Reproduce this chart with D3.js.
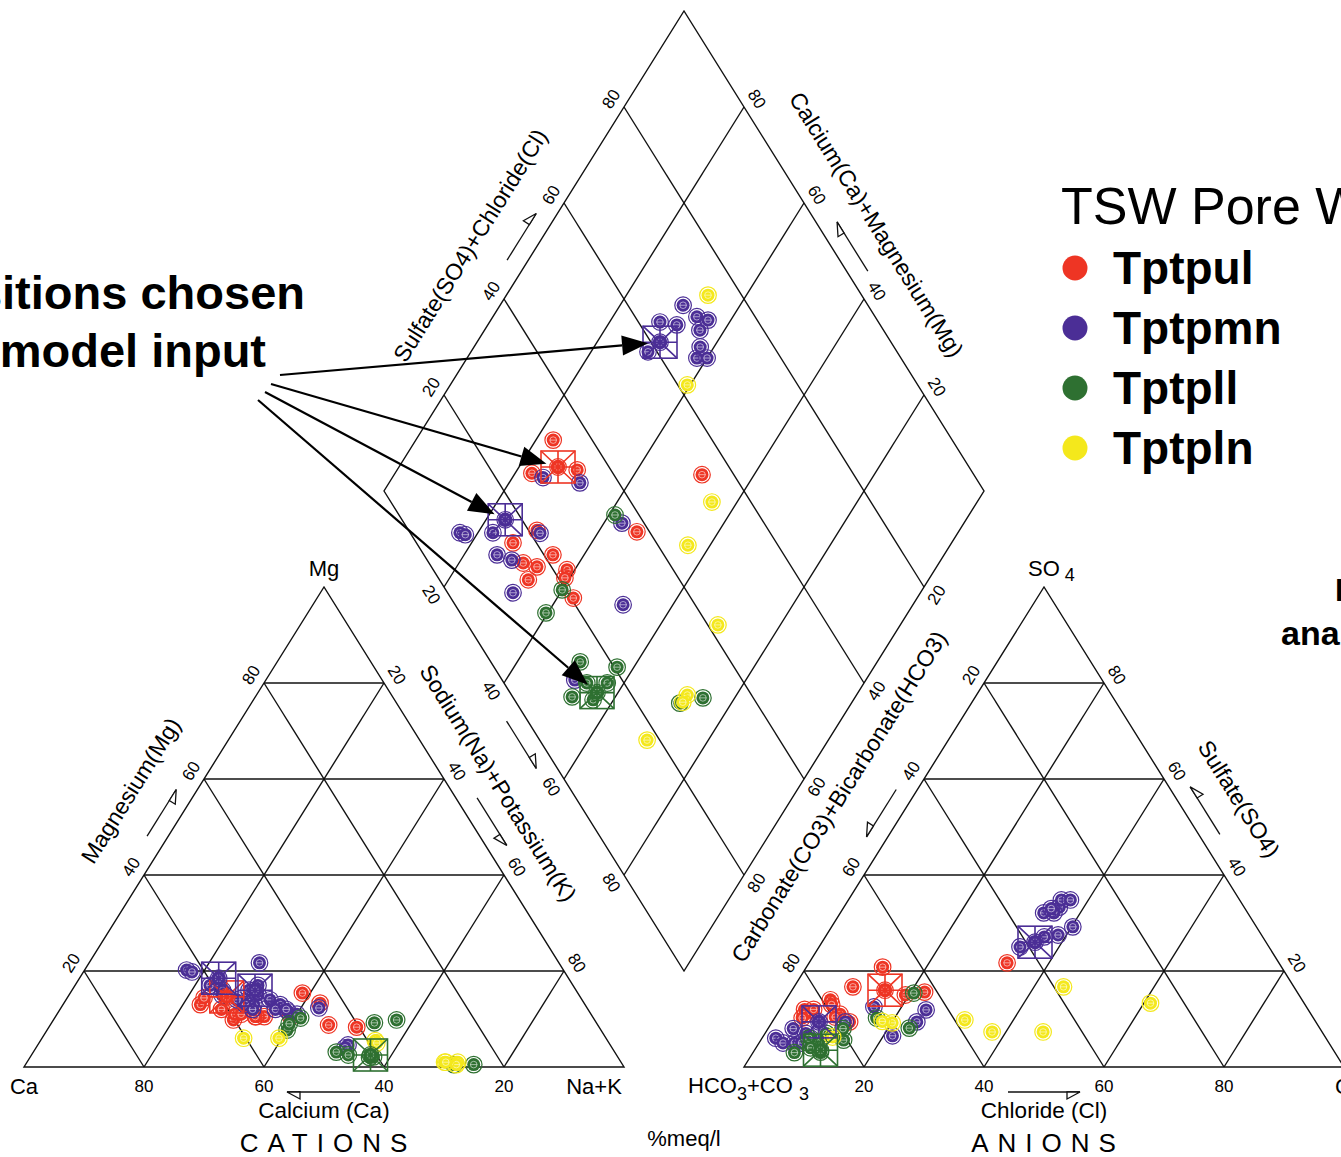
<!DOCTYPE html>
<html>
<head>
<meta charset="utf-8">
<script src="https://cdn.jsdelivr.net/npm/d3@7"></script>
<style>
  body { margin: 0; background: #fff; }
  svg { display: block; }
  text { font-family: "Liberation Sans", Arial, Helvetica, sans-serif; fill: #000; }
</style>
</head>
<body>
<svg></svg>
<script>
// groups and colours
const groups = ["Tptpul", "Tptpmn", "Tptpll", "Tptpln"]
const colours = ["#ee3524", "#4b2e96", "#2e7031", "#f4e81c"]

// samples, each row: [Mg, Na+K, SO4, Cl] in %meq/l
const tptpul = [
  [13, 22.9, 20.8, 12.7], [14.4, 22.8, 16.7, 9.8], [9.8, 30, 15, 19.4],
  [11, 29.6, 14, 7.4], [12, 26.9, 12, 4.1], [10.5, 34.8, 11, 10.5],
  [11, 30.7, 11, 4.7], [10.5, 33.4, 12, 5.6], [10.5, 33.3, 10.2, 4.6],
  [15.4, 38.7, 9.4, 12.9], [10.5, 39.2, 13, 8.1], [13.3, 42.7, 10.4, 10],
  [8.75, 46.4, 15.6, 22.3], [8.3, 51.3, 21.7, 33]
]
const tptpmn = [
  [17, 30.5, 33.3, 35.9], [21.7, 28.4, 27.1, 36.5], [15, 31.5, 27.5, 38.6],
  [14, 34, 34.8, 35.5], [13, 36.2, 34.8, 37], [12, 35.9, 29.2, 40.2],
  [16, 29.5, 25, 33.5], [11.5, 38.3, 32.1, 33.9], [11, 40, 32.1, 35.6],
  [12, 37.7, 33, 34.7], [16, 25.1, 12.5, 15.4], [13, 31.8, 9.4, 24.1],
  [20.2, 17, 6, 2.3], [19.8, 18.1, 5, 4], [17, 22.5, 7, 6.8],
  [13, 30.4, 9.4, 12.2], [15, 25.5, 8, 4.2], [14, 28.5, 6, 8.1],
  [12, 32.1, 5, 5.9], [4.6, 51.7, 6.5, 21.5], [12.3, 43, 11.9, 24.4],
  [4, 51.5, 5, 7.1]
]
const tptpll = [
  [10.2, 41, 15.4, 20.6], [7.7, 40, 5.6, 13.8], [9, 39.7, 3.1, 11.2],
  [3.1, 50.5, 5, 9.9], [9.8, 57.2, 8, 12.5], [2.5, 52.8, 3, 6.9],
  [9.2, 53.8, 6, 7.8], [2.1, 57.2, 7, 10.2], [2, 56.6, 4, 9.1],
  [0.5, 74.7, 8.1, 23.5], [0.5, 71.4, 10.2, 17]
]
const tptpln = [
  [6, 33.6, 13.3, 61.1], [6, 39.5, 16.7, 44.9], [5.5, 55.8, 7.3, 46.2],
  [5, 56.3, 7.3, 37.7], [1, 69.6, 9.8, 31.9], [1, 71.8, 9.2, 20.1],
  [0.5, 71.8, 9.5, 18.3], [1, 69.8, 6.25, 11.65]
]
// compositions chosen for model input: [group, Mg, Na+K, SO4, Cl]
const chosen = [
  [0, 14.6, 26.5, 16, 15.5],
  [1, 16, 30.5, 26, 35.5],
  [1, 18.5, 23.2, 9.4, 7.8],
  [2, 2.5, 56.5, 3.5, 11]
]
const samples = [tptpul, tptpmn, tptpll, tptpln]
const ticks = [20, 40, 60, 80]

const width = 1341, height = 1157

const svg = d3.select("svg")
  .attr("width", width)
  .attr("height", height)

// geometry of the piper plot
const side = d3.scaleLinear().domain([0, 100]).range([0, 600])
const rise = d3.scaleLinear().domain([0, 100]).range([0, 480])
const baseY = 1067
const catX0 = 24
const anX0 = catX0 + side(120)
const diaX0 = catX0 + side(60)
const diaY0 = baseY - rise(120)

function cat(mg, nak) { return [catX0 + side(nak + mg / 2), baseY - rise(mg)] }
function an(so4, cl) { return [anX0 + side(cl + so4 / 2), baseY - rise(so4)] }
function dia(nak, sc) { return [diaX0 + side((nak + sc) / 2), diaY0 + rise(nak - sc)] }

const ang = Math.atan2(480, 300) * 180 / Math.PI
const rad = ang * Math.PI / 180
const nUL = [-Math.sin(rad), -Math.cos(rad)]  // outward, edge rising to the right
const nUR = [Math.sin(rad), -Math.cos(rad)]   // outward, edge falling to the right
const nLL = [-nUR[0], -nUR[1]]
const nLR = [-nUL[0], -nUL[1]]
const uUp = [Math.cos(rad), -Math.sin(rad)]
const uDn = [Math.cos(rad), Math.sin(rad)]

const line = d3.line()

// grid
const grid = svg.append("g")
  .attr("fill", "none")
  .attr("stroke", "#111")
  .attr("stroke-width", 1.4)

const segs = []
ticks.forEach(v => {
  segs.push([cat(v, 0), cat(v, 100 - v)])
  segs.push([cat(0, v), cat(100 - v, v)])
  segs.push([cat(0, 100 - v), cat(100 - v, 0)])
  segs.push([an(v, 0), an(v, 100 - v)])
  segs.push([an(0, v), an(100 - v, v)])
  segs.push([an(0, 100 - v), an(100 - v, 0)])
  segs.push([dia(v, 0), dia(v, 100)])
  segs.push([dia(0, v), dia(100, v)])
})
grid.selectAll("path.seg").data(segs).enter().append("path")
  .attr("class", "seg")
  .attr("d", d => line(d))

const outlines = [
  [cat(0, 0), cat(0, 100), cat(100, 0)],
  [an(0, 0), an(0, 100), an(100, 0)],
  [dia(0, 0), dia(100, 0), dia(100, 100), dia(0, 100)]
]
grid.selectAll("path.outline").data(outlines).enter().append("path")
  .attr("class", "outline")
  .attr("d", d => line(d) + "Z")

// tick labels
const tickLabels = []
ticks.forEach(v => {
  tickLabels.push({p: cat(v, 0), n: nUL, r: -ang, t: v})
  tickLabels.push({p: cat(100 - v, v), n: nUR, r: ang, t: v})
  tickLabels.push({p: an(100 - v, 0), n: nUL, r: -ang, t: v})
  tickLabels.push({p: an(v, 100 - v), n: nUR, r: ang, t: v})
  tickLabels.push({p: dia(0, v), n: nUL, r: -ang, t: v})
  tickLabels.push({p: dia(100 - v, 100), n: nUR, r: ang, t: v})
  tickLabels.push({p: dia(v, 0), n: nLL, r: ang, t: v})
  tickLabels.push({p: dia(100, 100 - v), n: nLR, r: -ang, t: v})
  tickLabels.push({p: [cat(0, 100 - v)[0], baseY + 5], n: [0, 1], r: 0, t: v, d: 14})
  tickLabels.push({p: [an(0, v)[0], baseY + 5], n: [0, 1], r: 0, t: v, d: 14})
})
svg.append("g").selectAll("text").data(tickLabels).enter().append("text")
  .attr("transform", d => {
    const dd = d.d || 15
    return `translate(${d.p[0] + d.n[0] * dd},${d.p[1] + d.n[1] * dd}) rotate(${d.r})`
  })
  .attr("text-anchor", "middle")
  .attr("dominant-baseline", "central")
  .attr("font-size", 17)
  .text(d => d.t)

// axis titles along the edges
function edgeText(p, n, off, u, along, rot, txt) {
  const x = p[0] + n[0] * off + u[0] * along
  const y = p[1] + n[1] * off + u[1] * along
  svg.append("text")
    .attr("transform", `translate(${x},${y}) rotate(${rot})`)
    .attr("text-anchor", "middle")
    .attr("dominant-baseline", "central")
    .attr("font-size", 23)
    .text(txt)
}
edgeText(cat(50, 0), nUL, 56, uUp, 8, -ang, "Magnesium(Mg)")
edgeText(dia(0, 50), nUL, 57, uUp, -29, -ang, "Sulfate(SO4)+Chloride(Cl)")
edgeText(dia(50, 100), nUR, 50, uDn, 0, ang, "Calcium(Ca)+Magnesium(Mg)")
edgeText(dia(50, 0), nLL, 58, uDn, 25, ang, "Sodium(Na)+Potassium(K)")
edgeText(dia(100, 50), nLR, 39, uUp, -53, -ang, "Carbonate(CO3)+Bicarbonate(HCO3)")
edgeText(an(50, 50), nUR, 53, uDn, 0, ang, "Sulfate(SO4)")

// small axis arrows
function axisArrow(x1, y1, x2, y2, s) {
  const dx = x2 - x1, dy = y2 - y1, L = Math.hypot(dx, dy)
  const ux = dx / L, uy = dy / L
  const bx = x2 - ux * 13, by = y2 - uy * 13
  const sx = bx - uy * 7 * s, sy = by + ux * 7 * s
  const g = svg.append("g").attr("stroke", "#111").attr("stroke-width", 1.3)
  g.append("path").attr("d", line([[x1, y1], [x2, y2]])).attr("fill", "none")
  g.append("path").attr("d", line([[x2, y2], [bx, by], [sx, sy]]) + "Z").attr("fill", "#fff")
}
function edgeArrow(p, n, off, u, a0, a1, s) {
  axisArrow(p[0] + n[0] * off + u[0] * a0, p[1] + n[1] * off + u[1] * a0,
            p[0] + n[0] * off + u[0] * a1, p[1] + n[1] * off + u[1] * a1, s)
}
axisArrow(360, 1092, 287, 1092, -1)
axisArrow(1008, 1092, 1080, 1092, 1)
edgeArrow(cat(50, 0), nUL, 18, uUp, -22, 33, 1)
edgeArrow(dia(0, 50), nUL, 18, uUp, -22, 33, -1)
edgeArrow(dia(50, 100), nUR, 18, uDn, 35, -23, -1)
edgeArrow(dia(50, 0), nLL, 18, uDn, -23, 33, -1)
edgeArrow(cat(50, 50), nUR, 18, uDn, -23, 33, 1)
edgeArrow(an(50, 0), nUL, 18, uUp, 33, -23, 1)
edgeArrow(an(50, 50), nUR, 18, uDn, 20, -36, 1)

// corner and base labels
const cornerText = [
  {x: cat(0, 0)[0], y: baseY + 19, t: "Ca", s: 22},
  {x: cat(0, 100)[0] - 30, y: baseY + 19, t: "Na+K", s: 22},
  {x: cat(100, 0)[0], y: cat(100, 0)[1] - 19, t: "Mg", s: 22},
  {x: cat(0, 50)[0], y: baseY + 43, t: "Calcium (Ca)", s: 22.5},
  {x: an(0, 50)[0], y: baseY + 43, t: "Chloride (Cl)", s: 22.5},
  {x: diaX0 + side(50), y: baseY + 71, t: "%meq/l", s: 22}
]
svg.append("g").selectAll("text").data(cornerText).enter().append("text")
  .attr("x", d => d.x).attr("y", d => d.y)
  .attr("text-anchor", "middle")
  .attr("dominant-baseline", "central")
  .attr("font-size", d => d.s)
  .text(d => d.t)

svg.append("text")
  .attr("x", anX0 + side(100) - 9).attr("y", baseY + 19)
  .attr("dominant-baseline", "central").attr("font-size", 22)
  .text("Cl")

const hco = svg.append("text")
  .attr("x", anX0 - 56).attr("y", baseY + 26)
  .attr("font-size", 22)
hco.append("tspan").text("HCO")
hco.append("tspan").attr("dy", 7).attr("font-size", 18).text("3")
hco.append("tspan").attr("dy", -7).text("+CO ")
hco.append("tspan").attr("dy", 7).attr("font-size", 18).text("3")

const so = svg.append("text")
  .attr("x", an(100, 0)[0] - 16).attr("y", an(100, 0)[1] - 11)
  .attr("font-size", 22)
so.append("tspan").text("SO")
so.append("tspan").attr("dy", 5).attr("font-size", 18).text(" 4")

const bigLabels = [
  {x: cat(0, 50)[0], t: "CATIONS"},
  {x: an(0, 50)[0], t: "ANIONS"}
]
svg.append("g").selectAll("text").data(bigLabels).enter().append("text")
  .attr("x", d => d.x + 4).attr("y", baseY + 76)
  .attr("text-anchor", "middle")
  .attr("dominant-baseline", "central")
  .attr("font-size", 26)
  .attr("letter-spacing", 9)
  .text(d => d.t)

// sample markers
function marker(g, p, c) {
  const m = g.append("g").attr("transform", `translate(${p[0]},${p[1]})`)
  m.append("circle").attr("r", 8.3).attr("fill", "none").attr("stroke", c).attr("stroke-width", 1.2)
  m.append("circle").attr("r", 6.5).attr("fill", c)
  m.append("circle").attr("r", 3.3).attr("fill", "none").attr("stroke", "#fff").attr("stroke-opacity", 0.6).attr("stroke-width", 0.9)
  m.append("path").attr("d", "M-3.5,0H3.5").attr("stroke", "#fff").attr("stroke-opacity", 0.6).attr("stroke-width", 0.9)
}
const pts = svg.append("g")
samples.forEach((rows, gi) => {
  rows.forEach(r => {
    marker(pts, cat(r[0], r[1]), colours[gi])
    marker(pts, an(r[2], r[3]), colours[gi])
    marker(pts, dia(r[1], r[2] + r[3]), colours[gi])
  })
})

// chosen compositions: boxed
function box(g, p, c) {
  const w = 17, h = 16
  const b = g.append("g").attr("transform", `translate(${p[0]},${p[1]})`)
    .attr("stroke", c).attr("stroke-width", 1.6).attr("fill", "none")
  marker(b, [0, 0], c)
  b.append("rect").attr("x", -w).attr("y", -h).attr("width", 2 * w).attr("height", 2 * h)
  b.append("path").attr("d", `M${-w},${-h}L${w},${h}M${w},${-h}L${-w},${h}M0,${-h}V${h}M${-w},0H${w}`)
}
const boxes = svg.append("g")
chosen.forEach(r => {
  const c = colours[r[0]]
  box(boxes, cat(r[1], r[2]), c)
  box(boxes, an(r[3], r[4]), c)
  box(boxes, dia(r[2], r[3] + r[4]), c)
})

// annotation arrows to the chosen compositions
const starts = [[280, 375], [271, 384], [265, 392], [258, 400]]
const targets = [1, 0, 2, 3]
const ann = svg.append("g")
starts.forEach((s, i) => {
  const r = chosen[targets[i]]
  const d = dia(r[2], r[3] + r[4])
  const dx = d[0] - s[0], dy = d[1] - s[1], L = Math.hypot(dx, dy)
  const ux = dx / L, uy = dy / L
  const tip = [d[0] - ux * 12, d[1] - uy * 12]
  const back = [tip[0] - ux * 26, tip[1] - uy * 26]
  ann.append("path").attr("d", line([s, back])).attr("stroke", "#000").attr("stroke-width", 2.2)
  ann.append("path")
    .attr("d", line([tip, [back[0] - uy * 10, back[1] + ux * 10], [back[0] + uy * 10, back[1] - ux * 10]]) + "Z")
    .attr("fill", "#000")
})

svg.append("text").attr("x", 305).attr("y", 309)
  .attr("text-anchor", "end").attr("font-size", 47).attr("font-weight", "bold")
  .text("Compositions chosen")
svg.append("text").attr("x", 266).attr("y", 367)
  .attr("text-anchor", "end").attr("font-size", 47).attr("font-weight", "bold")
  .text("for model input")

svg.append("text").attr("x", 1335).attr("y", 601)
  .attr("font-size", 32).attr("font-weight", "bold").text("Individual")
svg.append("text").attr("x", 1281).attr("y", 645)
  .attr("font-size", 34).attr("font-weight", "bold").text("analyses")

// legend
const legend = svg.append("g")
legend.append("text").attr("x", 1061).attr("y", 224)
  .attr("font-size", 52).text("TSW Pore Water")
const items = legend.selectAll("g.item").data(groups).enter().append("g")
  .attr("class", "item")
  .attr("transform", (d, i) => `translate(1075,${268 + i * 60})`)
items.append("circle").attr("r", 12.5).attr("fill", (d, i) => colours[i])
items.append("text").attr("x", 38).attr("y", 16)
  .attr("font-size", 46).attr("font-weight", "bold")
  .text(d => d)
</script>
</body>
</html>
